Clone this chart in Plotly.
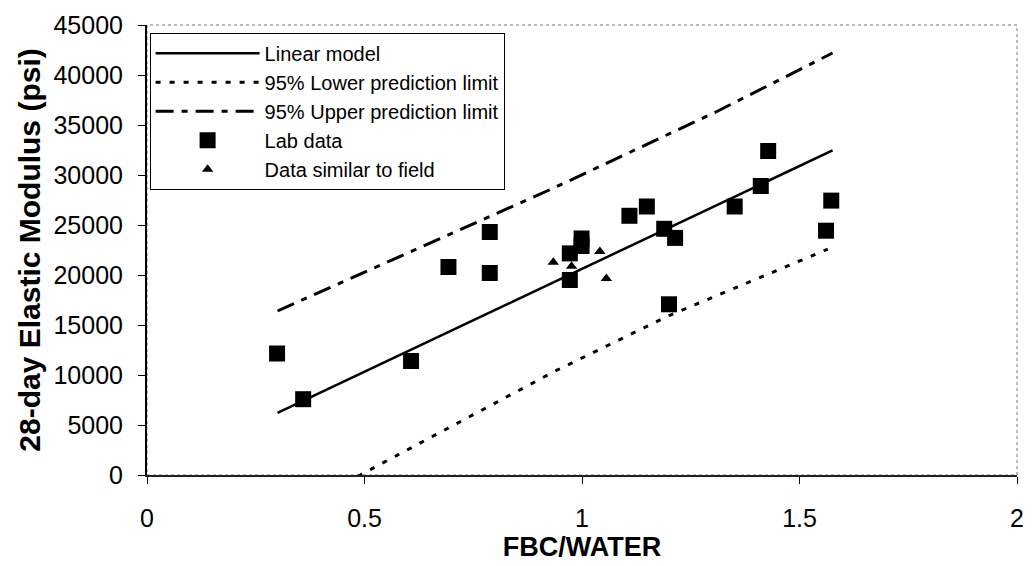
import plotly.graph_objects as go

# ---- data ----
lab_x = [0.299, 0.359, 0.607, 0.693, 0.788, 0.788, 0.972, 0.972, 0.999, 0.999,
         1.109, 1.149, 1.189, 1.200, 1.214, 1.351, 1.411, 1.428, 1.561, 1.573]
lab_y = [12150, 7580, 11400, 20800, 24300, 20200, 22160, 19500, 23650, 22900,
         25920, 26850, 24620, 17070, 23710, 26850, 28900, 32400, 24430, 27440]

field_x = [0.934, 0.965, 0.976, 1.041, 1.056]
field_y = [21280, 19850, 20870, 22350, 19660]

fit_x = [0.30, 1.576]
fit_y = [6220, 32460]

lower_x = [0.455, 0.49, 0.94, 1.20, 1.565]
lower_y = [-700, 0, 10430, 15940, 22580]

upper_x = [0.30, 0.62, 0.94, 1.31, 1.576]
upper_y = [16400, 22600, 28800, 36350, 42200]

x_ticks = [0, 0.5, 1, 1.5, 2]
y_ticks = list(range(0, 45001, 5000))

FONT = "Liberation Sans, Arial, sans-serif"

fig = go.Figure()
fig.add_trace(go.Scatter(x=fit_x, y=fit_y, mode="lines", name="Linear model",
                         line=dict(color="black", width=2.5)))
fig.add_trace(go.Scatter(x=lower_x, y=lower_y, mode="lines", name="95% Lower prediction limit",
                         line=dict(color="black", width=3, dash="5px,9px")))
fig.add_trace(go.Scatter(x=upper_x, y=upper_y, mode="lines", name="95% Upper prediction limit",
                         line=dict(color="black", width=3, dash="18px,8px,6px,8px")))
fig.add_trace(go.Scatter(x=lab_x, y=lab_y, mode="markers", name="Lab data",
                         marker=dict(symbol="square", size=16, color="black")))
fig.add_trace(go.Scatter(x=field_x, y=field_y, mode="markers", name="Data similar to field",
                         marker=dict(symbol="triangle-up", size=10, color="black")))

fig.update_layout(
    width=1035, height=566,
    margin=dict(l=147, r=11, t=21, b=82),
    paper_bgcolor="white", plot_bgcolor="white",
    font=dict(family=FONT, color="black", size=20),
    showlegend=True,
    legend=dict(x=0.003, y=0.983, xanchor="left", yanchor="top",
                bgcolor="white", bordercolor="black", borderwidth=1,
                font=dict(size=20, family=FONT), itemwidth=104,
                tracegroupgap=0),
    shapes=[dict(type="rect", xref="paper", yref="paper", x0=0, x1=1, y0=0, y1=1,
                 line=dict(color="#777", width=1, dash="dot"), layer="below")],
)
fig.update_xaxes(
    range=[0, 2], tickvals=x_ticks, ticktext=[("%g" % v) for v in x_ticks],
    showgrid=False, zeroline=False, showline=True, linecolor="#222", linewidth=2,
    ticks="outside", ticklen=7, tickcolor="black", tickwidth=1,
    tickfont=dict(size=25, family=FONT), ticklabelstandoff=13,
    title=dict(text="<b>FBC/WATER</b>", font=dict(size=27, family=FONT), standoff=4),
)
fig.update_yaxes(
    range=[0, 45000], tickvals=y_ticks, ticktext=[str(v) for v in y_ticks],
    showgrid=False, zeroline=False, showline=True, linecolor="black", linewidth=2,
    ticks="outside", ticklen=7, tickcolor="black", tickwidth=1,
    tickfont=dict(size=25, family=FONT), ticklabelstandoff=10,
    title=dict(text="<b>28-day Elastic Modulus (psi)</b>", font=dict(size=30, family=FONT), standoff=4),
)

fig.write_html("out.html")
